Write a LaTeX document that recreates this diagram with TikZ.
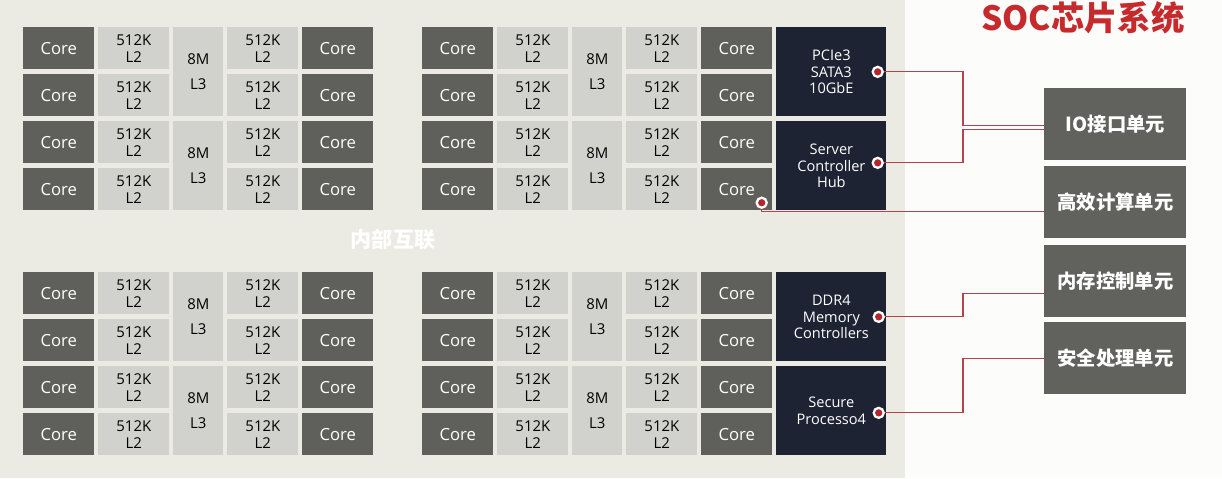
\documentclass[tikz,border=0pt]{standalone}
\usepackage{fontspec}
\setmainfont{Open Sans}
\newfontfamily\cjk{Noto Sans CJK SC}
\usetikzlibrary{calc,positioning}
\definecolor{chipbg}{HTML}{EBEBE3}
\definecolor{pagebg}{HTML}{FCFCFA}
\definecolor{coregray}{HTML}{5F5F5B}
\definecolor{cachegray}{HTML}{D1D1CE}
\definecolor{ctrlnavy}{HTML}{1D2333}
\definecolor{unitgray}{HTML}{61615E}
\definecolor{linkred}{HTML}{B5424C}
\definecolor{dotred}{HTML}{B3262C}
\definecolor{titlered}{HTML}{C62A2C}

\begin{document}
\begin{tikzpicture}[x=0.02cm, y=-0.02cm,
  core/.style={fill=coregray, text=white, minimum width=1.42cm, minimum height=0.84cm,
               inner sep=0, anchor=north west, font=\fontsize{9.5}{11}\selectfont},
  ltwo/.style={fill=cachegray, minimum width=1.42cm, minimum height=0.84cm, inner sep=0,
               anchor=north west, align=center, font=\fontsize{8.5}{9.8}\selectfont},
  lthree/.style={fill=cachegray, minimum width=1.0cm, minimum height=1.78cm, inner sep=0,
                 anchor=north west, align=center, font=\fontsize{8.5}{14.2}\selectfont},
  ctrl/.style={fill=ctrlnavy, text=white, minimum width=2.2cm, minimum height=1.78cm, inner sep=0,
               anchor=north west, align=center, font=\fontsize{8.3}{9.5}\selectfont},
  unit/.style={fill=unitgray, text=white, minimum width=2.84cm, minimum height=1.44cm, inner sep=0,
               anchor=north west, font=\cjk\bfseries\fontsize{11}{13}\selectfont},
  dot/.style={circle, fill=dotred, draw=white, line width=1.3pt, minimum size=0.2cm, inner sep=0},
  link/.style={linkred, line width=0.7pt},
]
\useasboundingbox (0,0) rectangle (1222,478);
\fill[chipbg] (0,0) rectangle (905,478);
\fill[pagebg] (905,0) rectangle (1222,478);

% =========================== four core clusters ===========================
\foreach \px/\py/\pn in {23/27/a, 422/27/b, 23/272/c, 422/272/d}{
  \foreach \r/\ry in {1/0, 2/47, 3/94, 4/141}{
    \node[core] (\pn-cl\r) at (\px, \py+\ry) {Core};
    \node[ltwo] (\pn-ll\r) at (\px+75, \py+\ry) {512K\\L2};
    \node[ltwo] (\pn-lr\r) at (\px+204, \py+\ry) {512K\\L2};
    \node[core] (\pn-cr\r) at (\px+279, \py+\ry) {Core};
  }
  % shared L3 per four cores
  \node[lthree] (\pn-lt1) at (\px+150, \py) {8M\\L3};
  \node[lthree] (\pn-lt2) at (\px+150, \py+94) {8M\\L3};
}

\node[font=\cjk\bfseries\fontsize{12}{12}\selectfont, text=white] (noc) at (393,240) {内部互联};

% =========================== controllers ===========================
\node[ctrl] (pcie) at (776,27) {PCIe3\\SATA3\\10GbE};
\node[ctrl] (hub) at (776,121) {Server\\Controller\\Hub};
\node[ctrl] (ddr) at (776,272) {DDR4\\Memory\\Controllers};
\node[ctrl] (sec) at (776,366) {Secure\\Processo4};

% =========================== functional units ===========================
\node[font=\cjk\bfseries\fontsize{19}{19}\selectfont, text=titlered, anchor=north, inner sep=0]
  (title) at (1083,1) {SOC芯片系统};
\node[unit] (io) at (1044,88) {IO接口单元};
\node[unit] (compute) at (1044,166) {高效计算单元};
\node[unit] (mem) at (1044,245) {内存控制单元};
\node[unit] (safe) at (1044,322) {安全处理单元};

% links
\coordinate (pdot) at ($(pcie.east)+(-9,0)$);
\coordinate (hdot) at ($(hub.east)+(-9,-3)$);
\coordinate (cdot) at ($(b-cr4.south east)+(-11,-8)$);
\coordinate (ddot) at ($(ddr.east)+(-8,0)$);
\coordinate (sdot) at ($(sec.east)+(-8,2)$);
\coordinate (bus) at (963,0);
\draw[link] (pdot) -- (pdot -| bus) |- ($(io.west)+(0,1)$);
\draw[link] (hdot) -- (hdot -| bus) |- ($(io.west)+(0,5)$);
\draw[link] (cdot) |- ($(compute.west)+(0,9)$);
\draw[link] (ddot) -- (ddot -| bus) |- ($(mem.west)+(0,12)$);
\draw[link] (sdot) -- (sdot -| bus) |- (safe.west);
\foreach \d in {pdot, hdot, cdot, ddot, sdot}{ \node[dot] (\d-mark) at (\d) {}; }

\end{tikzpicture}
\end{document}
